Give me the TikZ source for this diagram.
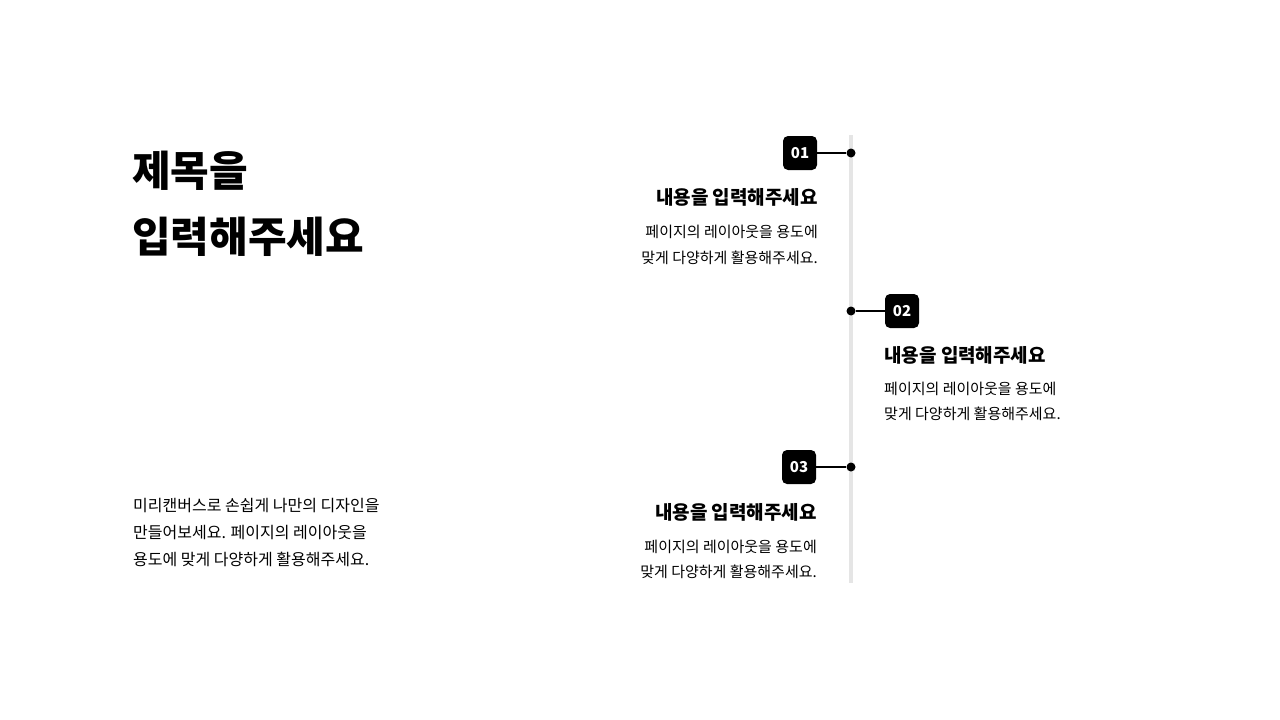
\documentclass[tikz,border=0pt]{standalone}
\usepackage{fontspec}
\setmainfont{Noto Sans CJK KR}
\begin{document}
\begin{tikzpicture}[x=1pt,y=-1pt,
 badge/.style={fill=black,rounded corners=5pt,minimum width=34pt,minimum height=34pt,text=white,font=\fontsize{15}{15}\selectfont\bfseries,inner sep=0pt},
 dot/.style={circle,fill=black,inner sep=0pt,minimum size=9pt},
 head/.style={font=\fontsize{19}{19}\selectfont\bfseries,inner sep=0pt},
 body/.style={font=\fontsize{15}{15}\selectfont,inner sep=0pt},
 conn/.style={line width=1.5pt}]
\useasboundingbox[fill=white] (0,0) rectangle (1280,720);
\coordinate (lt) at (851,135); \coordinate (lb) at (851,583);
\draw[line width=4pt,black!10] (lt) -- (lb);
\node[head,anchor=west,font=\fontsize{42}{42}\selectfont\bfseries] (t1) at (132,171) {제목을};
\node[head,anchor=west,font=\fontsize{42}{42}\selectfont\bfseries] (t2) at (132,237) {입력해주세요};
\node[body,anchor=west,font=\fontsize{16}{16}\selectfont] (l1) at (133,506) {미리캔버스로 손쉽게 나만의 디자인을};
\node[body,anchor=west,font=\fontsize{16}{16}\selectfont] (l2) at (133,533) {만들어보세요. 페이지의 레이아웃을};
\node[body,anchor=west,font=\fontsize{16}{16}\selectfont] (l3) at (133,559) {용도에 맞게 다양하게 활용해주세요.};
% 01
\node[badge] (b1) at (800,153) {01};
\node[dot] (d1) at (851,153) {};
\draw[conn] (b1) -- (d1);
\node[head,anchor=east] (h1) at (818,197) {내용을 입력해주세요};
\node[body,anchor=east] (p1a) at (818,232) {페이지의 레이아웃을 용도에};
\node[body,anchor=east] (p1b) at (818,258) {맞게 다양하게 활용해주세요.};
% 02
\node[badge] (b2) at (902,311) {02};
\node[dot] (d2) at (851,311) {};
\draw[conn] (d2) -- (b2);
\node[head,anchor=west] (h2) at (884,355) {내용을 입력해주세요};
\node[body,anchor=west] (p2a) at (884,389) {페이지의 레이아웃을 용도에};
\node[body,anchor=west] (p2b) at (884,414) {맞게 다양하게 활용해주세요.};
% 03
\node[badge] (b3) at (799,467) {03};
\node[dot] (d3) at (851,467) {};
\draw[conn] (b3) -- (d3);
\node[head,anchor=east] (h3) at (817,512) {내용을 입력해주세요};
\node[body,anchor=east] (p3a) at (817,547) {페이지의 레이아웃을 용도에};
\node[body,anchor=east] (p3b) at (817,572) {맞게 다양하게 활용해주세요.};
\end{tikzpicture}
\end{document}
